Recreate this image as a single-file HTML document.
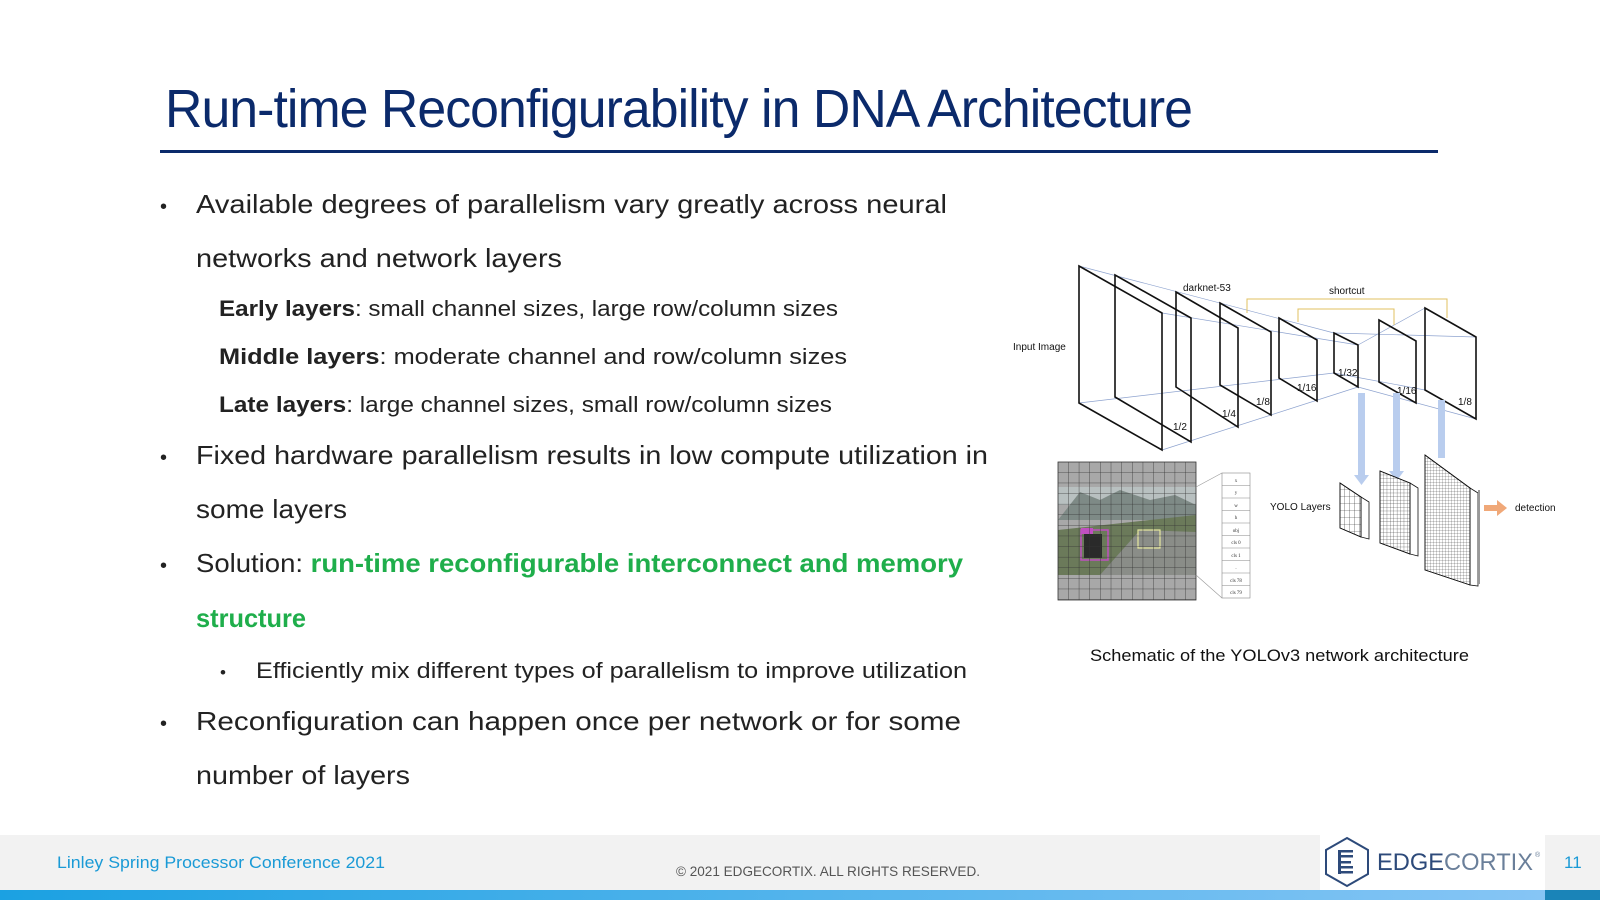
<!DOCTYPE html>
<html><head><meta charset="utf-8"><style>
html,body{margin:0;padding:0;background:#fff;}
svg{display:block;}
</style></head><body>
<svg width="1600" height="900" viewBox="0 0 1600 900" xmlns="http://www.w3.org/2000/svg" font-family="Liberation Sans, sans-serif">
<defs>
<linearGradient id="bar" x1="0" x2="1"><stop offset="0" stop-color="#1ba1e2"/><stop offset="1" stop-color="#86c5f5"/></linearGradient>
<pattern id="g1" width="5" height="7" patternUnits="userSpaceOnUse"><path d="M5 0V7M0 7H5" stroke="#222" stroke-width="0.6" fill="none"/></pattern>
<pattern id="g2" width="3.4" height="3.6" patternUnits="userSpaceOnUse"><path d="M3.4 0V3.6M0 3.6H3.4" stroke="#222" stroke-width="0.5" fill="none"/></pattern>
<pattern id="g3" width="3" height="3" patternUnits="userSpaceOnUse"><path d="M3 0V3M0 3H3" stroke="#222" stroke-width="0.4" fill="none"/></pattern>
<pattern id="gp" x="1058" y="462" width="10.65" height="10.6" patternUnits="userSpaceOnUse"><path d="M10.65 0V10.6M0 10.6H10.65" stroke="#333" stroke-width="0.8" fill="none"/></pattern>
</defs>

<!-- Title -->
<text x="165" y="127" font-size="54" fill="#0b2a6b" textLength="1027" lengthAdjust="spacingAndGlyphs" letter-spacing="-1">Run-time Reconfigurability in DNA Architecture</text>
<rect x="160" y="150" width="1278" height="3" fill="#0b2a6b"/>

<!-- Bullets -->
<g fill="#222" font-size="26">
<text x="160" y="213" font-size="20">•</text>
<text x="196" y="213" textLength="751" lengthAdjust="spacingAndGlyphs">Available degrees of parallelism vary greatly across neural</text>
<text x="196" y="267" textLength="366" lengthAdjust="spacingAndGlyphs">networks and network layers</text>
<g font-size="22">
<text x="219" y="316" textLength="619" lengthAdjust="spacingAndGlyphs"><tspan font-weight="bold">Early layers</tspan>: small channel sizes, large row/column sizes</text>
<text x="219" y="364" textLength="628" lengthAdjust="spacingAndGlyphs"><tspan font-weight="bold">Middle layers</tspan>: moderate channel and row/column sizes</text>
<text x="219" y="412" textLength="613" lengthAdjust="spacingAndGlyphs"><tspan font-weight="bold">Late layers</tspan>: large channel sizes, small row/column sizes</text>
</g>
<text x="160" y="464" font-size="20">•</text>
<text x="196" y="464" textLength="792" lengthAdjust="spacingAndGlyphs">Fixed hardware parallelism results in low compute utilization in</text>
<text x="196" y="518" textLength="151" lengthAdjust="spacingAndGlyphs">some layers</text>
<text x="160" y="572" font-size="20">•</text>
<text x="196" y="572" textLength="767" lengthAdjust="spacingAndGlyphs">Solution: <tspan fill="#1fae4b" font-weight="bold">run-time reconfigurable interconnect and memory</tspan></text>
<text x="196" y="627" fill="#1fae4b" font-weight="bold" textLength="110" lengthAdjust="spacingAndGlyphs">structure</text>
<text x="220" y="678" font-size="17">•</text>
<text x="256" y="678" font-size="22" textLength="711" lengthAdjust="spacingAndGlyphs">Efficiently mix different types of parallelism to improve utilization</text>
<text x="160" y="730" font-size="20">•</text>
<text x="196" y="730" textLength="765" lengthAdjust="spacingAndGlyphs">Reconfiguration can happen once per network or for some</text>
<text x="196" y="784" textLength="214" lengthAdjust="spacingAndGlyphs">number of layers</text>
</g>

<!-- Diagram: perspective lines -->
<g stroke="#8ea3cf" stroke-width="0.7" fill="none">
<path d="M1079 266 L1334 333 M1079 403 L1334 373 M1162 450 L1358 387 M1162 313 L1358 345"/>
<path d="M1358 345 L1425 308 M1358 387 L1476 419 M1334 333 L1476 337 M1334 373 L1425 390"/>
</g>
<!-- planes -->
<g stroke="#111" stroke-width="1.6" fill="none">
<path d="M1079 266 L1162 313 L1162 450 L1079 403 Z"/>
<path d="M1115 275 L1191 318 L1191 442 L1115 397 Z"/>
<path d="M1176 292 L1238 328 L1238 427 L1176 387 Z"/>
<path d="M1220 303 L1271 332 L1271 415 L1220 385 Z"/>
<path d="M1279 318 L1317 340 L1317 401 L1279 378 Z"/>
<path d="M1334 333 L1358 345 L1358 387 L1334 373 Z"/>
<path d="M1379 320 L1416 341 L1416 403 L1379 382 Z"/>
<path d="M1425 308 L1476 337 L1476 419 L1425 390 Z"/>
</g>
<!-- shortcuts -->
<g stroke="#e0c060" stroke-width="1" fill="none">
<path d="M1247 313 V299 H1447 V318"/>
<path d="M1298 322 V309 H1394 V325"/>
</g>
<g font-size="10" fill="#111">
<text x="1183" y="291">darknet-53</text>
<text x="1329" y="294">shortcut</text>
<text x="1013" y="350">Input Image</text>
<text x="1173" y="430">1/2</text>
<text x="1222" y="417">1/4</text>
<text x="1256" y="405">1/8</text>
<text x="1297" y="391">1/16</text>
<text x="1338" y="376">1/32</text>
<text x="1397" y="394">1/16</text>
<text x="1458" y="405">1/8</text>
<text x="1270" y="510">YOLO Layers</text>
<text x="1515" y="511">detection</text>
</g>
<!-- blue arrows -->
<g fill="#b9cdee">
<rect x="1358" y="393" width="7" height="82"/><path d="M1354 475 H1369 L1361.5 485 Z"/>
<rect x="1393" y="393" width="7" height="78"/><path d="M1389 471 H1404 L1396.5 481 Z"/>
<rect x="1438" y="400" width="7" height="58"/>
</g>
<!-- YOLO grids -->
<g stroke="#111" stroke-width="0.8">
<path d="M1361 497 L1369 502 L1369 539 L1361 537 Z" fill="#fff"/>
<path d="M1340 483 L1361 497 L1361 537 L1340 528 Z" fill="#fff"/>
<path d="M1340 483 L1361 497 L1361 537 L1340 528 Z" fill="url(#g1)"/>
<path d="M1410 483 L1418 488 L1418 556 L1410 554 Z" fill="#fff"/>
<path d="M1380 471 L1410 483 L1410 554 L1380 543 Z" fill="#fff"/>
<path d="M1380 471 L1410 483 L1410 554 L1380 543 Z" fill="url(#g2)"/>
<path d="M1470 488 L1478 493 L1478 586 L1470 585 Z" fill="#fff"/>
<path d="M1425 455 L1470 488 L1470 585 L1425 570 Z" fill="#fff"/>
<path d="M1425 455 L1470 488 L1470 585 L1425 570 Z" fill="url(#g3)"/>
</g>
<line x1="1479" y1="490" x2="1479" y2="584" stroke="#999" stroke-width="2"/>
<path d="M1484 505 H1497 V500 L1507 508 L1497 516 V511 H1484 Z" fill="#f0a878"/>
<!-- photo -->
<rect x="1058" y="462" width="138" height="138" fill="#a8a8a8"/>
<rect x="1058" y="487" width="138" height="18" fill="#b8c0c0"/>
<path d="M1058 520 L1080 492 L1100 500 L1120 490 L1150 500 L1175 495 L1196 505 V520 Z" fill="#7e8a86"/>
<path d="M1058 530 L1196 515 V575 H1058 Z" fill="#6b7a5a"/>
<path d="M1100 575 L1140 530 L1196 532 V575 Z" fill="#8a8d88"/>
<rect x="1081" y="530" width="27" height="30" fill="none" stroke="#c050c0" stroke-width="1.5"/>
<rect x="1084" y="534" width="18" height="24" fill="#2a2a2a"/>
<rect x="1081" y="528" width="12" height="6" fill="#c050c0"/>
<rect x="1138" y="530" width="22" height="18" fill="none" stroke="#e8e8a0" stroke-width="1.2"/>
<rect x="1058" y="462" width="138" height="138" fill="url(#gp)" stroke="#333" stroke-width="0.8"/>
<g stroke="#999" stroke-width="0.6"><path d="M1196 487 L1222 473 M1196 575 L1222 598"/></g>
<g stroke="#888" stroke-width="0.6" fill="#fff">
<rect x="1222" y="473" width="28" height="125"/>
<path d="M1222 485.5H1250M1222 498H1250M1222 510.5H1250M1222 523H1250M1222 535.5H1250M1222 548H1250M1222 560.5H1250M1222 573H1250M1222 585.5H1250"/>
</g>
<g font-size="5" fill="#333" font-family="Liberation Serif, serif" text-anchor="middle">
<text x="1236" y="482">x</text><text x="1236" y="494">y</text><text x="1236" y="507">w</text><text x="1236" y="519">h</text><text x="1236" y="532">obj</text><text x="1236" y="544">cls 0</text><text x="1236" y="557">cls 1</text><text x="1236" y="569">.</text><text x="1236" y="582">cls 78</text><text x="1236" y="594">cls 79</text>
</g>
<text x="1090" y="661" font-size="17" fill="#111" textLength="379" lengthAdjust="spacingAndGlyphs">Schematic of the YOLOv3 network architecture</text>

<!-- Footer -->
<rect x="0" y="835" width="1600" height="55" fill="#f2f2f2"/>
<rect x="1320" y="835" width="225" height="55" fill="#fff"/>
<rect x="0" y="890" width="1545" height="10" fill="url(#bar)"/>
<rect x="1545" y="890" width="55" height="10" fill="#1a84b8"/>
<text x="57" y="868" font-size="17" fill="#1a9ad6" textLength="328" lengthAdjust="spacingAndGlyphs">Linley Spring Processor Conference 2021</text>
<text x="676" y="876" font-size="14" fill="#555" textLength="304" lengthAdjust="spacingAndGlyphs">© 2021 EDGECORTIX. ALL RIGHTS RESERVED.</text>
<path d="M1347 838 L1368 850 L1368 874 L1347 886 L1326 874 L1326 850 Z" fill="none" stroke="#2d4a7a" stroke-width="2"/>
<g fill="#2d4a7a"><rect x="1338" y="850" width="3" height="24"/><rect x="1341" y="850" width="12" height="2.5"/><rect x="1341" y="855" width="12" height="2.5"/><rect x="1341" y="861" width="10" height="2.5"/><rect x="1341" y="866" width="12" height="2.5"/><rect x="1341" y="871" width="12" height="2.5"/></g>
<text x="1377" y="870" font-size="24" fill="#2d4a7a" textLength="156" lengthAdjust="spacingAndGlyphs">EDGE<tspan fill="#6a7f9a">CORTIX</tspan></text>
<text x="1535" y="857" font-size="7" fill="#6a7f9a">®</text>
<text x="1564" y="868" font-size="17" fill="#1a9ad6">11</text>
</svg>
</body></html>
